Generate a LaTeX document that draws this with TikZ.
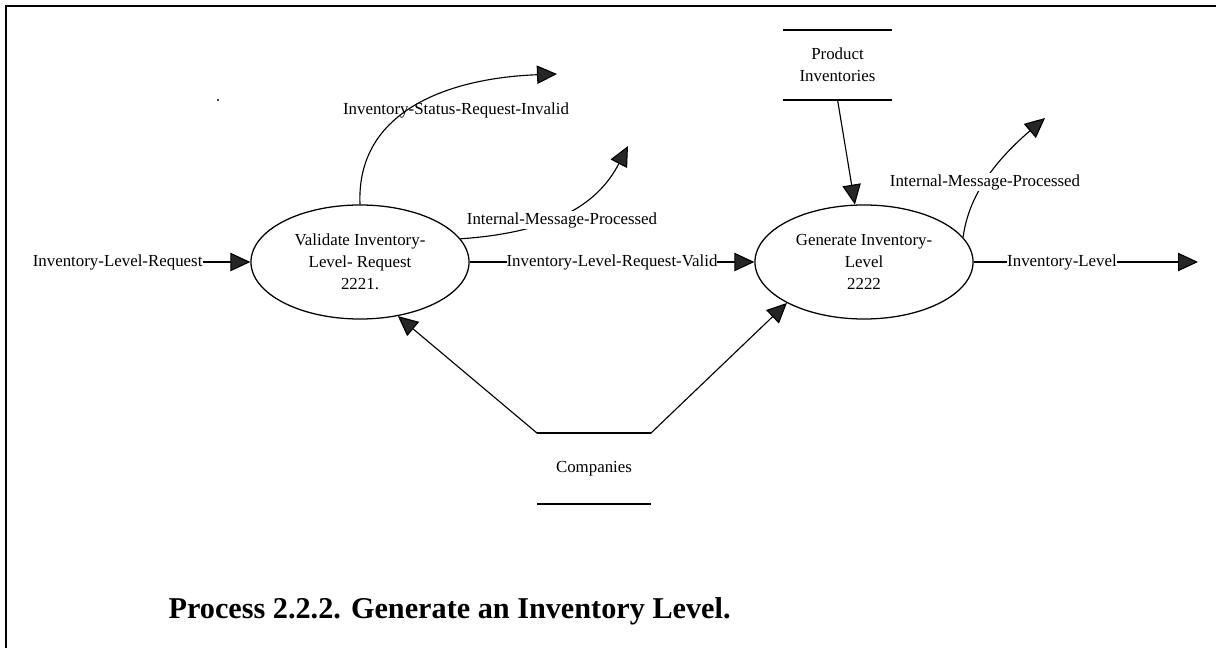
\documentclass[tikz,border=0pt]{standalone}
\usepackage{fontspec}
\setmainfont{Liberation Serif}
\usetikzlibrary{arrows.meta, shapes.geometric}

\begin{document}
\begin{tikzpicture}[x=0.025cm,y=-0.025cm,line width=0.8pt,
	>={Triangle[length=5mm,width=4.6mm,fill=black!85]},
	process/.style={
		ellipse,
		draw,
		line width=0.9pt,
		minimum width=5.45cm,
		minimum height=2.85cm,
		inner sep=0pt,
		align=center,
		font=\fontsize{12}{15.5}\selectfont,
	},
	flow/.style={inner sep=0pt,font=\fontsize{12}{14}\selectfont},
	store/.style={align=center,inner sep=0pt,font=\fontsize{12}{15.5}\selectfont},
]
	\useasboundingbox (0,0) rectangle (1216,648);
	% frame
	\draw[line width=1.5pt] (6,648) -- (6,6) -- (1216,6);
	\fill (218,100) circle (1.2);

	\node[process] (validate) at (360,262) {Validate Inventory-\\Level- Request\\2221.};
	\node[process] (generate) at (864,262) {Generate Inventory-\\Level\\2222};

	% data stores
	\node[store,minimum width=2.72cm,minimum height=1.7cm] (prod) at (837.5,65) {Product\\Inventories};
	\node[store,minimum width=2.8cm,minimum height=1.725cm] (comp) at (594,468.5) {Companies};
	\foreach \s in {prod,comp}{
		\draw[line width=1.5pt] (\s.north west) -- (\s.north east);
		\draw[line width=1.5pt] (\s.south west) -- (\s.south east);
	}

	% flows
	\node[flow,anchor=east] (ilr) at (203,262) {Inventory-Level-Request};
	\draw[->] (ilr) -- (validate);
	\draw[->] (validate) -- node[flow,fill=white] (valid) {Inventory-Level-Request-Valid} (generate);
	\node[flow,fill=white] (lvl) at (1062,262) {Inventory-Level};
	\coordinate (lvl-out) at (1198,262);
	\draw (generate) -- (lvl);
	\draw[->] (lvl) -- (lvl-out);

	\coordinate (isri-out) at (557,74);
	\coordinate (imp1-out) at (628,146);
	\coordinate (imp2-out) at (1045,118);
	\draw[->] (validate.north) .. controls (356,110) and (450,78) .. (isri-out);
	\node[flow] (isri) at (456,110) {Inventory-Status-Request-Invalid};
	\draw[->] (validate.13) .. controls (560,232) and (600,200) .. (imp1-out);
	\node[flow,fill=white,inner sep=1pt] (imp1) at (562,220) {Internal-Message-Processed};
	\draw[->] (generate.14) .. controls (968,200) and (990,165) .. (imp2-out);
	\node[flow,fill=white,inner sep=1pt] (imp2) at (985,182) {Internal-Message-Processed};

	\draw[->] (prod.south) -- (generate.99);
	\draw[->] (comp.north west) -- (validate.-55);
	\draw[->] (comp.north east) -- (generate.-152);

	\node[anchor=base west,inner sep=0pt,font=\bfseries\fontsize{21.5}{24}\selectfont] (title) at (168,618)
		{Process 2.2.2. Generate an Inventory Level.};
\end{tikzpicture}
\end{document}
